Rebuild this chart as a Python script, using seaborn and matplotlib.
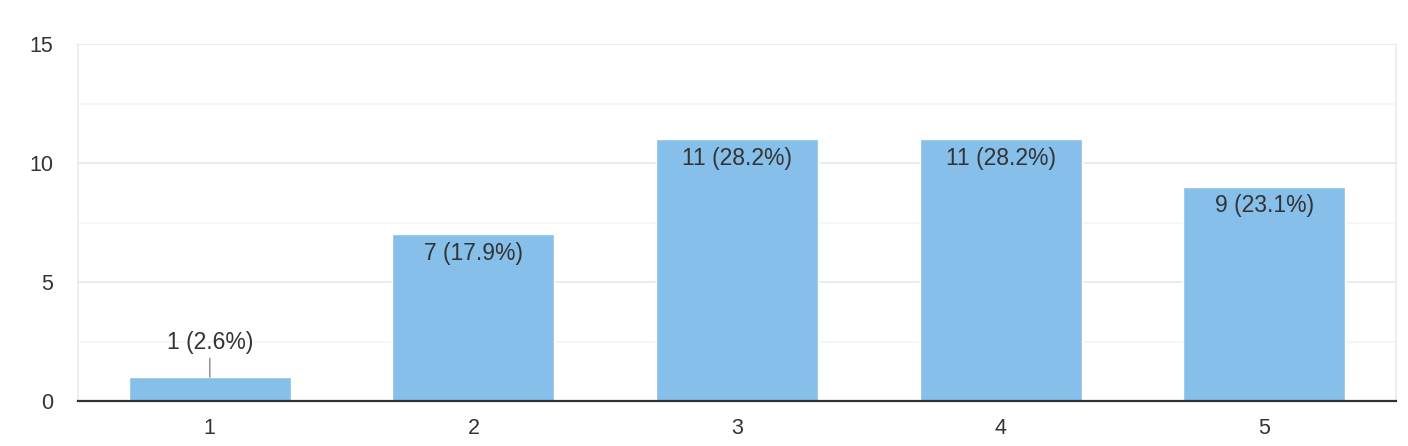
import matplotlib

matplotlib.use("Agg")
import matplotlib.pyplot as plt
import pandas as pd
import seaborn as sns

# survey answers (rating scale 1-5) and the number of responses
categories = ["1", "2", "3", "4", "5"]
counts = [1, 7, 11, 11, 9]
percents = [2.6, 17.9, 28.2, 28.2, 23.1]

BAR_COLOR = "#86BFEA"
TEXT_COLOR = "#333333"

df = pd.DataFrame({"answer": categories, "count": counts})

sns.set_theme(style="white")
plt.rcParams["font.family"] = ["Liberation Sans", "DejaVu Sans"]

fig = plt.figure(figsize=(14.08, 4.46), dpi=100)
ax = fig.add_axes([0.0554, 0.1009, 0.9361, 0.8004])

sns.barplot(data=df, x="answer", y="count", color=BAR_COLOR, width=0.615,
            saturation=1, ax=ax, zorder=3)

ax.set_ylim(0, 15)
ax.set_xlim(-0.5, 4.5)
ax.set_yticks([0, 5, 10, 15])
ax.set_yticks([2.5, 7.5, 12.5], minor=True)
ax.grid(axis="y", which="major", color="#EBEBEB", linewidth=1.3, zorder=0)
ax.grid(axis="y", which="minor", color="#F4F4F4", linewidth=1.1, zorder=0)
ax.set_xlabel("")
ax.set_ylabel("")

for side in ["left", "right", "top"]:
    ax.spines[side].set_color("#EBEBEB")
    ax.spines[side].set_linewidth(1.2)
ax.spines["top"].set_visible(False)
ax.spines["bottom"].set_color(TEXT_COLOR)
ax.spines["bottom"].set_linewidth(1.6)
ax.spines["bottom"].set_zorder(5)

ax.tick_params(axis="both", which="both", length=0, labelsize=15.5, colors=TEXT_COLOR)
ax.tick_params(axis="x", pad=12)
ax.tick_params(axis="y", pad=18)

# value labels: inside the bar, or above with a leader line when the bar is short
for i, (c, p) in enumerate(zip(counts, percents)):
    label = f"{c} ({p}%)"
    if c >= 3:
        ax.annotate(label, (i, c), xytext=(0, -5.5), textcoords="offset points",
                    ha="center", va="top", fontsize=16.5, color=TEXT_COLOR, zorder=6)
    else:
        ax.annotate(label, (i, c), xytext=(0, 17), textcoords="offset points",
                    ha="center", va="bottom", fontsize=16.5, color=TEXT_COLOR, zorder=6,
                    arrowprops=dict(arrowstyle="-", color="#888888", lw=1,
                                    shrinkA=1, shrinkB=0))

fig.savefig("out.png", dpi=100)
